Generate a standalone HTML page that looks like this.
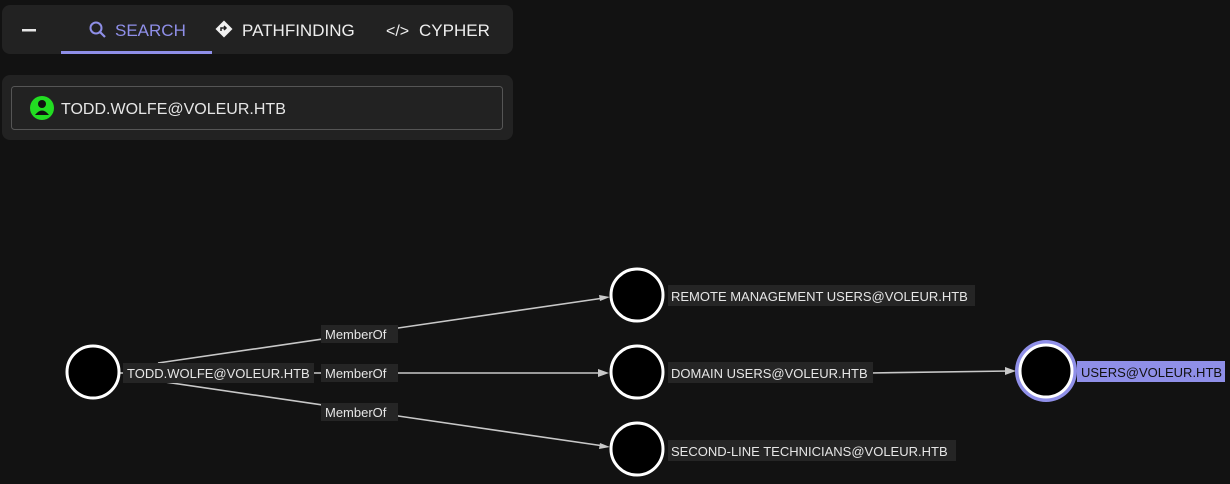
<!DOCTYPE html>
<html><head><style>
html,body{margin:0;padding:0;background:#121212;width:1230px;height:484px;overflow:hidden;font-family:"Liberation Sans",sans-serif;}
</style></head><body>
<svg width="1230" height="484" xmlns="http://www.w3.org/2000/svg" style="position:absolute;left:0;top:0">
<rect width="1230" height="484" fill="#121212"/>
<!-- top panel -->
<rect x="2" y="5" width="511" height="49" rx="8" fill="#222222"/>
<rect x="22" y="29" width="14" height="2.5" fill="#e6e6e6"/>
<circle cx="96" cy="28" r="5.5" fill="none" stroke="#8f8fe8" stroke-width="2"/>
<line x1="100" y1="32" x2="105" y2="37" stroke="#8f8fe8" stroke-width="2.2"/>
<text x="115" y="36" font-size="17" fill="#8f8fe8" font-weight="500">SEARCH</text>
<rect x="61" y="51" width="151" height="3" fill="#8f8fe8"/>
<rect x="218" y="23" width="12" height="12" transform="rotate(45 224 29)" fill="#f0f0f0"/>
<path d="M221 31 L221 28 L226 28 M224 26 L226 28 L224 30" stroke="#222" stroke-width="1.5" fill="none"/>
<text x="242" y="36" font-size="17" fill="#eeeeee" font-weight="500">PATHFINDING</text>
<text x="386" y="36" font-size="16" fill="#eeeeee">&lt;/&gt;</text>
<text x="419" y="36" font-size="17" fill="#eeeeee" font-weight="500">CYPHER</text>
<!-- search panel -->
<rect x="2" y="75" width="511" height="65" rx="8" fill="#222222"/>
<rect x="11.5" y="86.5" width="491" height="43" rx="3" fill="#222222" stroke="#555" stroke-width="1"/>
<circle cx="42" cy="108" r="12" fill="#22dd22"/>
<circle cx="42" cy="104" r="4" fill="#111"/>
<path d="M35 115 Q42 106 49 115 Z" fill="#111"/>
<text x="61" y="114" font-size="16" fill="#e6e6e6">TODD.WOLFE@VOLEUR.HTB</text>
<!-- edges -->
<g stroke="#c8c8c8" stroke-width="1.6" fill="none">
<line x1="158" y1="363" x2="604" y2="298"/>
<line x1="120" y1="373" x2="602" y2="373"/>
<line x1="158" y1="381" x2="604" y2="446"/>
<line x1="870" y1="373" x2="1010" y2="371"/>
</g>
<g fill="#c8c8c8">
<path d="M610 297 L599 295 L600 301 Z"/>
<path d="M609 373 L598 369 L598 377 Z"/>
<path d="M610 447 L600 443 L599 449 Z"/>
<path d="M1016 371 L1005 367 L1005 375 Z"/>
</g>
<!-- edge labels -->
<g font-size="13" fill="#e6e6e6">
<rect x="321" y="325" width="77" height="18" fill="#252525"/><text x="325" y="339">MemberOf</text>
<rect x="321" y="364" width="77" height="18" fill="#252525"/><text x="325" y="378">MemberOf</text>
<rect x="321" y="403" width="77" height="18" fill="#252525"/><text x="325" y="417">MemberOf</text>
</g>
<!-- nodes -->
<circle cx="1046" cy="371" r="31" fill="#8f8fe8"/>
<g fill="#000" stroke="#fff" stroke-width="3">
<circle cx="93" cy="372" r="26"/>
<circle cx="637" cy="295" r="26"/>
<circle cx="637" cy="372" r="26"/>
<circle cx="637" cy="449" r="26"/>
<circle cx="1046" cy="371" r="26"/>
</g>
<!-- node labels -->
<g font-size="13" fill="#e6e6e6">
<rect x="123" y="363" width="191" height="20" fill="#252525"/><text x="127" y="378">TODD.WOLFE@VOLEUR.HTB</text>
<rect x="668" y="285" width="307" height="21" fill="#252525"/><text x="671" y="301">REMOTE MANAGEMENT USERS@VOLEUR.HTB</text>
<rect x="668" y="362" width="205" height="21" fill="#252525"/><text x="671" y="378">DOMAIN USERS@VOLEUR.HTB</text>
<rect x="668" y="440" width="288" height="21" fill="#252525"/><text x="671" y="456">SECOND-LINE TECHNICIANS@VOLEUR.HTB</text>
<rect x="1077" y="361" width="148" height="21" fill="#8f8fe8"/><text x="1081" y="377" fill="#111">USERS@VOLEUR.HTB</text>
</g>
</svg>
</body></html>
